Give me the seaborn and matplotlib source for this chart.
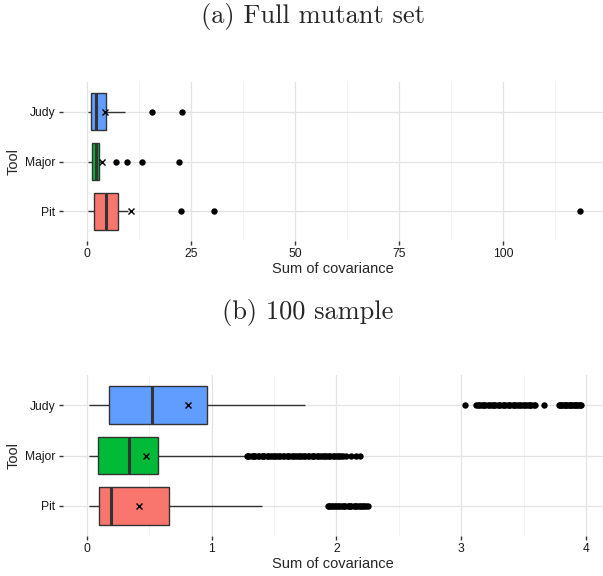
import matplotlib
matplotlib.use("Agg")
import matplotlib.pyplot as plt
from matplotlib.ticker import MultipleLocator
import pandas as pd
import seaborn as sns


tools = ["Judy", "Major", "Pit"]
colors = ["#619CFF", "#00BA38", "#F8766D"]

# (a) full mutant set: five-number summaries
full_lo = [0.3, 0.3, 0.3]
full_q1 = [0.9, 1.1, 1.8]
full_med = [2.2, 2.1, 4.6]
full_q3 = [4.6, 2.9, 7.5]
full_hi = [9.2, 3.5, 9.9]
full_mean = [4.4, 3.7, 10.6]
full_out_judy = [15.7, 22.8]
full_out_major = [6.9, 9.6, 13.2, 22.2]
full_out_pit = [22.6, 30.5, 118.5]

# (b) 100 sample
samp_lo = [0.02, 0.02, 0.02]
samp_q1 = [0.18, 0.09, 0.10]
samp_med = [0.52, 0.34, 0.19]
samp_q3 = [0.96, 0.57, 0.66]
samp_hi = [1.75, 1.27, 1.40]
samp_mean = [0.81, 0.47, 0.42]
samp_out_judy = [3.03, 3.12, 3.13, 3.14, 3.16, 3.17, 3.18, 3.19, 3.21, 3.22,
                 3.24, 3.25, 3.26, 3.27, 3.29, 3.30, 3.31, 3.33, 3.34, 3.35,
                 3.37, 3.38, 3.39, 3.41, 3.42, 3.43, 3.45, 3.46, 3.47, 3.49,
                 3.50, 3.51, 3.53, 3.54, 3.55, 3.56, 3.58, 3.59,
                 3.66, 3.78, 3.79, 3.80, 3.81, 3.82, 3.83, 3.84, 3.85, 3.86,
                 3.87, 3.88, 3.89, 3.90, 3.91, 3.92, 3.93, 3.94, 3.95, 3.96]
samp_out_major = [1.28, 1.29, 1.30, 1.32, 1.33, 1.34, 1.35, 1.37, 1.38, 1.40,
                  1.41, 1.42, 1.44, 1.45, 1.47, 1.48, 1.50, 1.51, 1.52, 1.54,
                  1.55, 1.57, 1.58, 1.60, 1.61, 1.62, 1.64, 1.65, 1.67, 1.68,
                  1.70, 1.71, 1.72, 1.74, 1.75, 1.77, 1.78, 1.80, 1.81, 1.82,
                  1.84, 1.85, 1.87, 1.88, 1.90, 1.91, 1.92, 1.94, 1.95, 1.97,
                  1.98, 2.00, 2.01, 2.02, 2.04, 2.05, 2.08, 2.12, 2.16, 2.19]
samp_out_pit = [1.93, 1.94, 1.95, 1.96, 1.97, 1.99, 2.00, 2.01, 2.02, 2.04,
                2.05, 2.06, 2.07, 2.09, 2.10, 2.11, 2.12, 2.14, 2.15, 2.16,
                2.17, 2.19, 2.20, 2.21, 2.22, 2.24, 2.25]


def summary_frame(lo, q1, med, q3, hi):
    # five values per tool: with whis=(0, 100) the box is drawn exactly from them
    rows = []
    for i, t in enumerate(tools):
        for v in (lo[i], q1[i], med[i], q3[i], hi[i]):
            rows.append({"Tool": t, "value": v})
    return pd.DataFrame(rows)


def outlier_frame(judy, major, pit):
    rows = []
    for t, vals in zip(tools, (judy, major, pit)):
        for v in vals:
            rows.append({"Tool": t, "value": v})
    return pd.DataFrame(rows)


def panel(ax, box_df, out_df, means, xlim, major, minor):
    sns.boxplot(data=box_df, x="value", y="Tool", hue="Tool", order=tools,
                hue_order=tools, palette=dict(zip(tools, colors)), orient="h",
                whis=(0, 100), showfliers=False, width=0.75, linewidth=1.0,
                linecolor="#333333", saturation=1, legend=False, ax=ax,
                medianprops={"linewidth": 2.2, "color": "#333333"},
                capprops={"linewidth": 0})
    sns.stripplot(data=out_df, x="value", y="Tool", order=tools, orient="h",
                  jitter=False, color="black", size=4.6, linewidth=0, ax=ax)
    mean_df = pd.DataFrame({"Tool": tools, "value": means})
    sns.pointplot(data=mean_df, x="value", y="Tool", order=tools, orient="h",
                  errorbar=None, linestyle="none", marker="x", color="black",
                  markersize=5, markeredgewidth=1.0, ax=ax)

    ax.set_xlim(*xlim)
    ax.set_ylim(2.6, -0.6)
    ax.xaxis.set_major_locator(MultipleLocator(major))
    ax.xaxis.set_minor_locator(MultipleLocator(minor))
    ax.grid(True, which="major", axis="both", color="#E3E3E3", linewidth=0.9)
    ax.grid(True, which="minor", axis="x", color="#F2F2F2", linewidth=0.6)
    ax.set_axisbelow(True)
    for s in ax.spines.values():
        s.set_visible(False)
    ax.tick_params(axis="both", which="major", bottom=True, left=True,
                   length=3.2, width=1.0, color="#333333", labelsize=8.7,
                   labelcolor="#1a1a1a", pad=2)
    ax.tick_params(axis="both", which="minor", length=0)
    ax.set_xlabel("Sum of covariance", fontsize=10.5, labelpad=1.5)
    ax.set_ylabel("Tool", fontsize=10.5, labelpad=3)


sns.set_theme(style="whitegrid")
plt.rcParams["font.family"] = ["Liberation Sans", "DejaVu Sans"]

fig = plt.figure(figsize=(6.03, 5.76), dpi=100)
ax1 = fig.add_axes([62.5 / 603, (576 - 241) / 576, 540.5 / 603, 159 / 576])
ax2 = fig.add_axes([62.5 / 603, (576 - 536) / 576, 540.5 / 603, 161 / 576])

panel(ax1, summary_frame(full_lo, full_q1, full_med, full_q3, full_hi),
      outlier_frame(full_out_judy, full_out_major, full_out_pit),
      full_mean, (-5.89, 124.0), 25, 12.5)
panel(ax2, summary_frame(samp_lo, samp_q1, samp_med, samp_q3, samp_hi),
      outlier_frame(samp_out_judy, samp_out_major, samp_out_pit),
      samp_mean, (-0.195, 4.135), 1, 0.5)

fig.text(313 / 603, 1 - 16 / 576, "(a) Full mutant set", ha="center",
         va="center", fontsize=19, family="cmr10")
fig.text(308 / 603, 1 - 312 / 576, "(b) 100 sample", ha="center",
         va="center", fontsize=19, family="cmr10")

fig.savefig("out.png", dpi=100, facecolor="white")
